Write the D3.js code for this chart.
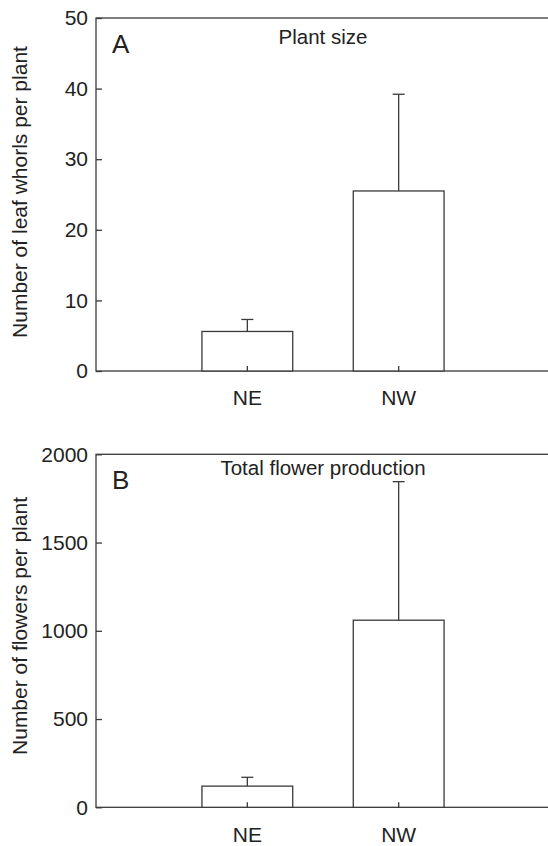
<!DOCTYPE html>
<html>
<head>
<meta charset="utf-8">
<script src="https://cdn.jsdelivr.net/npm/d3@7"></script>
<style>
  body { margin: 0; background: #fff; }
  svg { display: block; font-family: "Liberation Sans", Arial, sans-serif; }
</style>
</head>
<body>
<div class="chart"></div>
<script>
// données
const groups = ["NE", "NW"];
const whorlsMean = [5.6, 25.5];
const whorlsErr = [1.7, 13.7];
const flowersMean = [120, 1060];
const flowersErr = [50, 785];
const whorlsTicks = [0, 10, 20, 30, 40, 50];
const flowersTicks = [0, 500, 1000, 1500, 2000];

const width = 548, height = 846;
const left = 96, right = 550;
const ink = "#222", lineCol = "#3a3a3a";

const svg = d3.select(".chart").append("svg")
    .attr("width", width)
    .attr("height", height);

const x = d3.scaleBand()
    .domain(groups)
    .range([left, right])
    .paddingInner(0.4)
    .paddingOuter(0.7);

const panels = [
  { letter: "A", title: "Plant size", ylabel: "Number of leaf whorls per plant",
    mean: whorlsMean, err: whorlsErr, ticks: whorlsTicks, max: 50,
    top: 18, bottom: 371, titleY: 44, labelY: 192 },
  { letter: "B", title: "Total flower production", ylabel: "Number of flowers per plant",
    mean: flowersMean, err: flowersErr, ticks: flowersTicks, max: 2000,
    top: 454.3, bottom: 807.3, titleY: 475, labelY: 626 }
];

panels.forEach(p => {
  const y = d3.scaleLinear().domain([0, p.max]).range([p.bottom, p.top]);
  const g = svg.append("g");

  // cadre
  g.append("rect")
    .attr("x", left).attr("y", p.top)
    .attr("width", right - left).attr("height", p.bottom - p.top)
    .attr("fill", "none").attr("stroke", lineCol).attr("stroke-width", 1.3);

  const rows = groups.map((k, i) => ({ k, m: p.mean[i], e: p.err[i] }));

  // barres
  g.selectAll(".bar").data(rows).join("rect")
    .attr("class", "bar")
    .attr("x", d => x(d.k))
    .attr("y", d => y(d.m))
    .attr("width", x.bandwidth())
    .attr("height", d => y(0) - y(d.m))
    .attr("fill", "#fff").attr("stroke", lineCol).attr("stroke-width", 1.3);

  // barres d'erreur
  const cx = d => x(d.k) + x.bandwidth() / 2;
  g.selectAll(".err").data(rows).join("line")
    .attr("x1", cx).attr("x2", cx)
    .attr("y1", d => y(d.m)).attr("y2", d => y(d.m + d.e))
    .attr("stroke", lineCol).attr("stroke-width", 1.3);
  g.selectAll(".cap").data(rows).join("line")
    .attr("x1", d => cx(d) - 6).attr("x2", d => cx(d) + 6)
    .attr("y1", d => y(d.m + d.e)).attr("y2", d => y(d.m + d.e))
    .attr("stroke", lineCol).attr("stroke-width", 1.3);

  // axes
  const yAxis = g.append("g")
    .attr("transform", `translate(${left},0)`)
    .call(d3.axisLeft(y).tickValues(p.ticks).tickSize(-6).tickPadding(8).tickFormat(d3.format("d")));
  const xAxis = g.append("g")
    .attr("transform", `translate(0,${p.bottom})`)
    .call(d3.axisBottom(x).tickSize(-5).tickPadding(19.5));
  [yAxis, xAxis].forEach(a => {
    a.select(".domain").remove();
    a.selectAll("line").attr("stroke", lineCol).attr("stroke-width", 1.3);
    a.selectAll("text").attr("fill", ink).attr("font-family", "Liberation Sans, Arial, sans-serif");
  });
  yAxis.selectAll("text").attr("font-size", 21);
  xAxis.selectAll("text").attr("font-size", 21);

  // textes
  g.append("text")
    .attr("x", 112).attr("y", p.top + 34.5)
    .attr("font-size", 26).attr("fill", ink)
    .text(p.letter);
  g.append("text")
    .attr("x", (left + right) / 2).attr("y", p.titleY)
    .attr("text-anchor", "middle")
    .attr("font-size", 20.5).attr("fill", ink)
    .text(p.title);
  g.append("text")
    .attr("transform", `translate(27,${p.labelY}) rotate(-90)`)
    .attr("text-anchor", "middle")
    .attr("font-size", 21).attr("fill", ink)
    .text(p.ylabel);
});
</script>
</body>
</html>
